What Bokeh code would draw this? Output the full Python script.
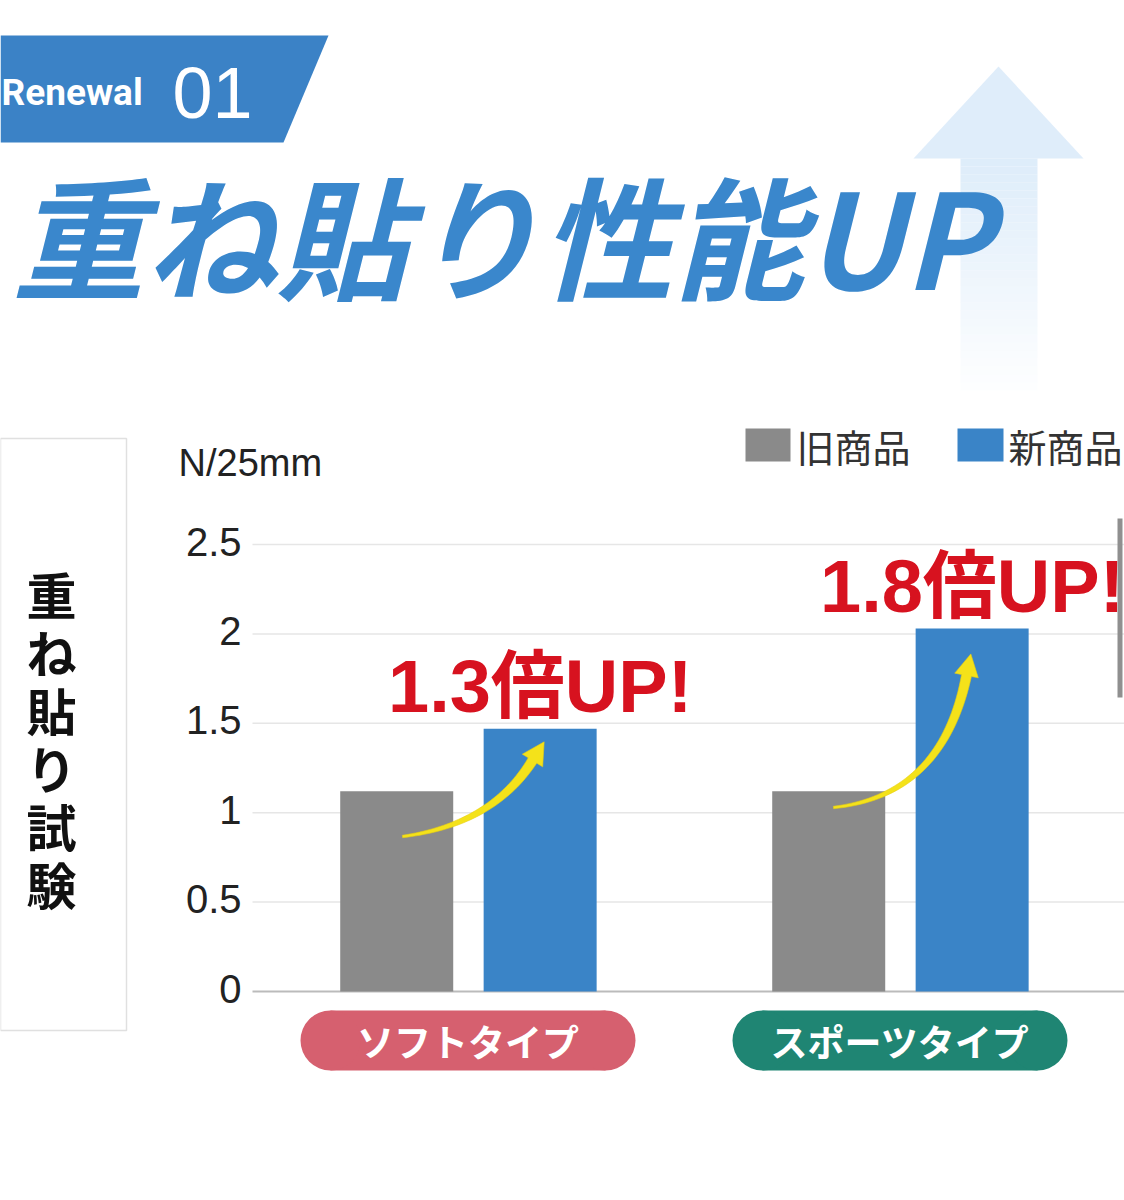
import math
from bokeh.plotting import figure
from bokeh.models import Range1d
from bokeh.core.properties import value
from bokeh.embed import file_html
from bokeh.resources import INLINE

# ---------------- data ----------------
categories = ["ソフトタイプ", "スポーツタイプ"]
series_names = ["旧商品", "新商品"]
old_values = [1.12, 1.12]
new_values = [1.47, 2.03]
y_ticks = [0, 0.5, 1, 1.5, 2, 2.5]
y_tick_labels = ["0", "0.5", "1", "1.5", "2", "2.5"]
up_labels = ["1.3倍UP!", "1.8倍UP!"]
unit_label = "N/25mm"
title_text = "重ね貼り性能UP"
side_label = "重ね貼り試験"
banner_word = "Renewal"
banner_number = "01"

# ---------------- layout (page pixels) ----------------
W, H = 1124, 1190
LEFT, TOP = 0, 0
CAT0_PX = 467.5      # page x of first category centre
CAT_STEP_PX = 432.0  # px between category centres
ZERO_PX = 991.0      # page y of value 0
UNIT_PX = 178.8      # px per 1 N/25mm
PLOT_LEFT_PX = 252.0

x_range = Range1d((LEFT - CAT0_PX) / CAT_STEP_PX, (LEFT + W - CAT0_PX) / CAT_STEP_PX)
y_range = Range1d((ZERO_PX - (TOP + H)) / UNIT_PX, (ZERO_PX - TOP) / UNIT_PX)

p = figure(width=W, height=H, x_range=x_range, y_range=y_range,
           output_backend="svg", toolbar_location=None,
           x_axis_location=None, y_axis_location=None, min_border=0,
           outline_line_color=None, background_fill_color="white",
           border_fill_color="white")
for g in p.grid:
    g.visible = False
p.extra_x_ranges = {"px": Range1d(LEFT, LEFT + W)}
p.extra_y_ranges = {"px": Range1d(TOP + H, TOP)}
PX = dict(x_range_name="px", y_range_name="px")

CJK = value("'Noto Sans CJK JP', sans-serif")
LATIN = value("'Liberation Sans', 'Noto Sans CJK JP', sans-serif")

# ---------------- background up arrow ----------------
p.patch([913, 998, 1083], [158, 66, 158], fill_color="#d9eaf9",
        fill_alpha=0.85, line_color=None, **PX)
n_seg = 29
seg_h = 8
seg_t = [158 + seg_h * k for k in range(n_seg)]
seg_b = [158 + seg_h * (k + 1) for k in range(n_seg)]
seg_a = [0.85 * (1 - k / n_seg) + 0.02 for k in range(n_seg)]
p.quad(left=[960] * n_seg, right=[1037] * n_seg, top=seg_t, bottom=seg_b,
       fill_color="#d9eaf9", fill_alpha=seg_a, line_color=None, **PX)

# ---------------- banner ----------------
p.patch([0, 328, 283, 0], [35, 35, 142, 142], fill_color="#3b82c6",
        line_color=None, **PX)
p.text(x=[1], y=[92], text=[banner_word], text_color="white",
       text_font=value("Roboto, 'Liberation Sans', sans-serif"),
       text_font_size="37px", text_font_style="bold",
       text_baseline="middle", text_align="left", **PX)
p.text(x=[172], y=[92], text=[banner_number], text_color="white",
       text_font=value("'Liberation Sans Narrow', 'Liberation Sans', sans-serif"),
       text_font_size="72px",
       text_baseline="middle", text_align="left", **PX)

# ---------------- title ----------------
p.text(x=[12], y=[232], text=[title_text], text_color="#3a87cc",
       text_font=CJK, text_font_size="132px", text_font_style="bold italic",
       text_baseline="middle", text_align="left", **PX)

# ---------------- left side box ----------------
p.quad(left=[0], right=[126], top=[438], bottom=[1030], fill_color=None,
       line_color="#e0e0e0", line_width=1.5, **PX)
chars = list(side_label)
p.text(x=[51] * len(chars), y=[592 + 58 * k for k in range(len(chars))],
       text=chars, text_color="#111111", text_font=CJK,
       text_font_size="50px", text_font_style="bold",
       text_baseline="middle", text_align="center", **PX)

# ---------------- axis ----------------
p.text(x=[178], y=[462], text=[unit_label], text_color="#222222",
       text_font=LATIN, text_font_size="38px",
       text_baseline="middle", text_align="left", **PX)

grid_left = (PLOT_LEFT_PX - CAT0_PX) / CAT_STEP_PX
grid_vals = [t for t in y_ticks if t > 0]
p.segment(x0=[grid_left] * len(grid_vals), x1=[x_range.end] * len(grid_vals),
          y0=grid_vals, y1=grid_vals, line_color="#e6e6e6", line_width=1.5)
p.segment(x0=[grid_left], x1=[x_range.end], y0=[0], y1=[0],
          line_color="#bbbbbb", line_width=2)
p.text(x=[241] * len(y_ticks), y=y_ticks, text=y_tick_labels,
       x_range_name="px", text_color="#222222", text_font=LATIN,
       text_font_size="40px", text_baseline="middle", text_align="right",
       y_offset=-3)

# ---------------- bars ----------------
bar_w = 113 / CAT_STEP_PX
off_old, off_new = -0.165, 0.167
xs = list(range(len(categories)))
p.vbar(x=[i + off_old for i in xs], top=old_values, bottom=0, width=bar_w,
       fill_color="#8a8a8a", line_color=None)
p.vbar(x=[i + off_new for i in xs], top=new_values, bottom=0, width=bar_w,
       fill_color="#3a84c7", line_color=None)

# ---------------- legend ----------------
p.quad(left=[745, 957], right=[790, 1003], top=[428, 428], bottom=[461, 461],
       fill_color=["#8a8a8a", "#3a84c7"], line_color=None, **PX)
p.text(x=[796, 1008], y=[445, 445], text=series_names, text_color="#333333",
       text_font=CJK, text_font_size="38px", text_baseline="middle",
       text_align="left", **PX)

# ---------------- yellow curved arrows ----------------
def curved_arrow(p0, c, p1, w0, w1, head_len, head_hw, n=40):
    left, right = [], []
    for k in range(n + 1):
        t = k / n
        x = (1 - t) ** 2 * p0[0] + 2 * (1 - t) * t * c[0] + t * t * p1[0]
        y = (1 - t) ** 2 * p0[1] + 2 * (1 - t) * t * c[1] + t * t * p1[1]
        dx = 2 * (1 - t) * (c[0] - p0[0]) + 2 * t * (p1[0] - c[0])
        dy = 2 * (1 - t) * (c[1] - p0[1]) + 2 * t * (p1[1] - c[1])
        L = math.hypot(dx, dy)
        nx, ny = -dy / L, dx / L
        hw = w0 + (w1 - w0) * t
        left.append((x + nx * hw, y + ny * hw))
        right.append((x - nx * hw, y - ny * hw))
    dx, dy = p1[0] - c[0], p1[1] - c[1]
    L = math.hypot(dx, dy)
    ux, uy = dx / L, dy / L
    nx, ny = -uy, ux
    tip = (p1[0] + ux * head_len, p1[1] + uy * head_len)
    hl = (p1[0] + nx * head_hw, p1[1] + ny * head_hw)
    hr = (p1[0] - nx * head_hw, p1[1] - ny * head_hw)
    pts = left + [hl, tip, hr] + right[::-1]
    return [q[0] for q in pts], [q[1] for q in pts]

for (p0, c, p1) in [((402, 836), (492, 824), (532, 760)),
                    ((833, 807), (942, 795), (966, 675))]:
    ax, ay = curved_arrow(p0, c, p1, 1.2, 5.0, 22, 12)
    p.patch(ax, ay, fill_color="#f4e21a", line_color="#e8cf10",
            line_width=0.6, **PX)

# ---------------- up labels ----------------
p.text(x=[i + off_new for i in xs], y=new_values, text=up_labels,
       text_color="#d7121f", text_font=LATIN, text_font_size="74px",
       text_font_style="bold", text_baseline="middle",
       text_align="center", y_offset=-42)

# ---------------- right-edge scroll marker ----------------
p.quad(left=[1117], right=[1122], top=[518], bottom=[697],
       fill_color="#8f8f8f", line_color=None, **PX)

# ---------------- category pills ----------------
pill_colors = ["#d6606f", "#1f8573"]
pill_y = [1040] * len(xs)
half = (335 - 60) / 2 / CAT_STEP_PX
p.rect(x=xs, y=pill_y, width=275, height=60, width_units="screen",
       height_units="screen", fill_color=pill_colors, line_color=None,
       y_range_name="px")
p.circle(x=[i - half for i in xs] + [i + half for i in xs],
         y=pill_y * 2, radius=30, radius_units="screen",
         fill_color=pill_colors * 2, line_color=None, y_range_name="px")
p.text(x=xs, y=pill_y, text=categories, y_range_name="px",
       text_color="white", text_font=CJK, text_font_size="37px",
       text_font_style="bold", text_baseline="middle", text_align="center")

open("out.html", "w").write(file_html(p, INLINE))
